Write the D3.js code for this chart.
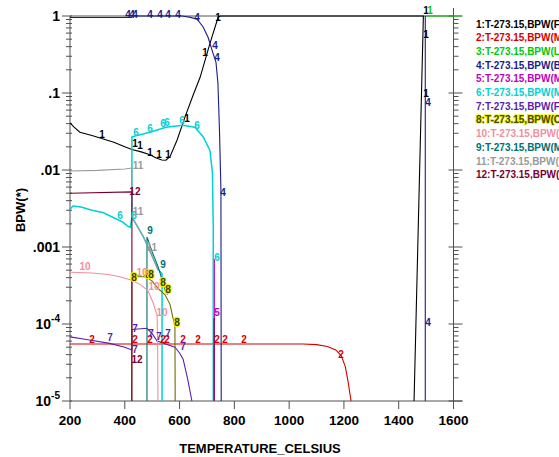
<!DOCTYPE html>
<html><head><meta charset="utf-8">
<script src="https://cdn.jsdelivr.net/npm/d3@7"></script>
<style>
body{margin:0;background:#fff;overflow:hidden}
svg{display:block}
text{font-family:Arial,"Liberation Sans",sans-serif}
</style>
</head><body>
<svg id="c" width="559" height="457"></svg>
<script>
// ---------- data ----------
const xTicks = [200,400,600,800,1000,1200,1400,1600];
const yTicks = [1,0.1,0.01,0.001,1e-4,1e-5];
const yTickLabels = [["1",""],[".1",""],[".01",""],[".001",""],["10","-4"],["10","-5"]];
const xTitle = "TEMPERATURE_CELSIUS";
const yTitle = "BPW(*)";

const legendOrder = [1,2,3,4,5,6,7,8,10,9,11,12];
const legendNames = {
  1:"1:T-273.15,BPW(FCC_A1)", 2:"2:T-273.15,BPW(M23C6)", 3:"3:T-273.15,BPW(LIQUID)",
  4:"4:T-273.15,BPW(BCC_A2)", 5:"5:T-273.15,BPW(M7C3)", 6:"6:T-273.15,BPW(M6C)",
  7:"7:T-273.15,BPW(FCC_A1#2)", 8:"8:T-273.15,BPW(CEMENTITE)", 10:"10:T-273.15,BPW(SIGMA)",
  9:"9:T-273.15,BPW(MC_ETA)", 11:"11:T-273.15,BPW(LAVES)", 12:"12:T-273.15,BPW(MU)"
};
const colors = {1:"#000000",2:"#d40000",3:"#00c800",4:"#1c1c8c",5:"#c000c0",6:"#00d2d2",
  7:"#5a1fb0",8:"#6e6e00",9:"#007070",10:"#f090a0",11:"#9a9a9a",12:"#7a0030"};

// series: list of segments, each [T, BPW]
const s1 = [[[200,0.041],[215,0.036],[236,0.031],[280,0.028],[310,0.026],[360,0.023],[400,0.020],[426,0.0185],[460,0.0172],[492,0.0158],[515,0.0143],[535,0.0135],[550,0.0134],[565,0.0149],[591,0.0245],[620,0.049],[650,0.095],[675,0.16],[711,0.44],[741,0.97],[750,1],[1490,1],[1456,1e-5]]];
const s2 = [[[200,5.5e-5],[1050,5.5e-5],[1100,5.4e-5],[1140,5.1e-5],[1170,4.6e-5],[1190,3.9e-5],[1205,2.8e-5],[1215,1.8e-5],[1226,1e-5]]];
const s3 = [[[1497,1],[1630,1]]];
const s4 = [[[200,0.955],[425,0.955],[426,1],[609,1],[640,0.96],[664,0.91],[686,0.72],[704,0.53],[722,0.33],[733,0.25],[740,0.135],[746,0.03],[751,0.0055],[752,1e-5]],
            [[1497,1e-5],[1497,1]]];
const s5 = [[[727,7e-4],[727,1e-5]]];
const s6 = [[[200,0.0031],[211,0.0034],[240,0.0033],[280,0.0030],[320,0.0028],[360,0.0024],[393,0.0021],[408,0.0019],[420,0.0018],[426,0.0024],[426,0.027],[492,0.031],[550,0.036],[612,0.038],[656,0.036],[686,0.027],[711,0.018],[720,0.0092],[723,0.0017],[723,1e-5]],
            [[426,0.0024],[437,0.0021],[466,0.0014],[485,0.001],[503,7.2e-4],[521,5.2e-4],[536,4.5e-4],[536,1e-5]]];
const s7 = [[[200,6.8e-5],[260,6.3e-5],[345,5.6e-5],[400,5.0e-5],[426,4.6e-5],[426,8.5e-5],[481,8.8e-5],[500,7.5e-5],[518,6.0e-5],[583,5.0e-5],[600,4.2e-5],[613,3.5e-5],[630,1.9e-5],[645,1e-5]]];
const s8 = [[[425,1e-5],[426,4.1e-4],[470,4.1e-4],[481,4.0e-4],[500,3.6e-4],[521,2.9e-4],[547,2.4e-4],[565,1.8e-4],[576,1.2e-4],[583,9.7e-5],[584,1e-5]]];
const s9 = [[[481,1e-5],[481,1.35e-3],[490,1.1e-3],[500,8.6e-4],[512,6.8e-4],[521,5.6e-4],[535,3.9e-4],[548,2.7e-4],[556,2.4e-4]]];
const s10 = [[[200,4.7e-4],[280,4.6e-4],[340,4.4e-4],[382,4.1e-4],[426,3.7e-4],[460,3.2e-4],[485,2.7e-4],[503,1.9e-4],[515,1.4e-4],[518,1.3e-4],[520,5e-5],[521,1e-5]]];
const s11 = [[[200,0.0097],[300,0.0099],[400,0.0103],[426,0.0106],[426,0.0025],[437,0.0021],[466,0.0014],[485,0.001],[503,7.2e-4],[521,5.0e-4]]];
const s12 = [[[200,0.005],[426,0.0052],[426,1e-5]],[[726,1.2e-4],[726,1e-5]]];
const seriesData = {1:s1,2:s2,3:s3,4:s4,5:s5,6:s6,7:s7,8:s8,9:s9,10:s10,11:s11,12:s12};

// curve labels [T, BPW]
const lab1 = [[317,0.0285],[437,0.0224],[456,0.0205],[492,0.0171],[525,0.0161],[558,0.0157],[627,0.0473],[693,0.331],[740,0.97],[1500,1.196],[1500,0.567],[1500,0.1]];
const lab2 = [[280,6.38e-5],[437,6.38e-5],[492,6.38e-5],[540,6.38e-5],[554,6.38e-5],[613,6.38e-5],[667,6.38e-5],[737,6.38e-5],[766,6.38e-5],[835,6.38e-5],[1189,3.96e-5]];
const lab3 = [[1514,1.196]];
const lab4 = [[412,1.06],[426,1.06],[437,1.06],[492,1.06],[529,1.06],[558,1.06],[594,1.06],[664,0.97],[729,0.42],[737,0.293],[759,0.00503],[1507,0.0742],[1507,1.06e-4]];
const lab5 = [[737,1.43e-4]];
const lab6 = [[441,0.0303],[492,0.0351],[540,0.0396],[554,0.0408],[609,0.0446],[664,0.0384],[383,0.0026],[434,0.0026],[737,7.2e-4]];
const lab7 = [[346,6.58e-5],[437,8.87e-5],[437,4.73e-5],[496,7.64e-5],[525,6.98e-5],[558,7.64e-5],[613,5.03e-5]];
const lab8 = [[434,3.96e-4],[485,4.46e-4],[496,4.46e-4],[540,3.41e-4],[558,2.77e-4],[591,1.06e-4]];
const lab9 = [[492,0.00166],[540,5.84e-4]];
const lab10 = [[255,5.66e-4],[463,4.6e-4],[507,3.03e-4],[536,1.43e-4]];
const lab11 = [[448,0.0116],[448,0.0029],[499,0.001]];
const lab12 = [[437,0.0052],[445,3.5e-5]];
const labelData = {1:lab1,2:lab2,3:lab3,4:lab4,5:lab5,6:lab6,7:lab7,8:lab8,9:lab9,10:lab10,11:lab11,12:lab12};
const labelText = {1:"1",2:"2",3:"1",4:"4",5:"5",6:"6",7:"7",8:"8",9:"9",10:"10",11:"11",12:"12"};

// ---------- drawing ----------
const svg = d3.select("#c");
const x = d3.scaleLinear().domain([200,1600]).range([70,453.5]);
const y = d3.scaleLog().domain([1e-5,1]).range([401,16]);
const axisColor = "#505050";

// minor log ticks
const minor = [];
for (let e=-5; e<0; e++) for (let m=2; m<=9; m++) minor.push(m*Math.pow(10,e));

const g = svg.append("g");
// left axis
g.append("line").attr("x1",x(200)).attr("x2",x(200)).attr("y1",y(1)).attr("y2",y(1e-5)).attr("stroke",axisColor);
g.selectAll(".lmaj").data(yTicks).join("line").attr("x1",x(200)-8).attr("x2",x(200)+2)
  .attr("y1",d=>y(d)).attr("y2",d=>y(d)).attr("stroke",axisColor);
g.selectAll(".lmin").data(minor).join("line").attr("x1",x(200)-4).attr("x2",x(200)+2)
  .attr("y1",d=>y(d)).attr("y2",d=>y(d)).attr("stroke",axisColor);
// right axis
g.append("line").attr("x1",x(1600)).attr("x2",x(1600)).attr("y1",8).attr("y2",y(1e-5)).attr("stroke",axisColor);
g.selectAll(".rmaj").data(yTicks).join("line").attr("x1",x(1600)-5).attr("x2",x(1600)+9)
  .attr("y1",d=>y(d)).attr("y2",d=>y(d)).attr("stroke",axisColor);
g.selectAll(".rmin").data(minor).join("line").attr("x1",x(1600)).attr("x2",x(1600)+5)
  .attr("y1",d=>y(d)).attr("y2",d=>y(d)).attr("stroke",axisColor);
// top line
g.append("line").attr("x1",x(200)).attr("x2",x(1600)).attr("y1",y(1)).attr("y2",y(1)).attr("stroke",axisColor);
// bottom axis
g.append("line").attr("x1",x(200)).attr("x2",x(1600)+9).attr("y1",y(1e-5)).attr("y2",y(1e-5)).attr("stroke",axisColor);
g.selectAll(".xt").data(xTicks).join("line").attr("x1",d=>x(d)).attr("x2",d=>x(d))
  .attr("y1",y(1e-5)).attr("y2",y(1e-5)+8).attr("stroke",axisColor);

// tick labels
g.selectAll(".xl").data(xTicks).join("text").attr("x",d=>x(d)).attr("y",y(1e-5)+24)
  .attr("text-anchor","middle").attr("font-size","13.5px").attr("font-weight","bold").text(d=>d);
const yl = g.selectAll(".yl").data(yTicks).join("text")
  .attr("x",60).attr("y",d=>y(d)+5).attr("text-anchor","end")
  .attr("font-size","14px").attr("font-weight","bold");
yl.append("tspan").text((d,i)=>yTickLabels[i][0]);
yl.append("tspan").attr("font-size","10px").attr("dy",-7).text((d,i)=>yTickLabels[i][1]);

// titles
svg.append("text").attr("x",260).attr("y",453).attr("text-anchor","middle")
  .attr("font-size","13px").attr("font-weight","bold").text(xTitle);
svg.append("text").attr("transform","translate(25,210) rotate(-90)").attr("text-anchor","middle")
  .attr("font-size","13px").attr("font-weight","bold").text(yTitle);

// curves
const line = d3.line().x(d=>x(d[0])).y(d=>y(d[1]));
const order = [1,2,3,4,5,6,7,8,9,10,11,12];
order.forEach(k=>{
  svg.append("g").selectAll("path").data(seriesData[k]).join("path")
    .attr("d",line).attr("fill","none").attr("stroke",colors[k])
    .attr("stroke-width", k===6 ? 1.5 : 1.1);
});

// curve labels
order.forEach(k=>{
  const t = svg.append("g").selectAll("text").data(labelData[k]).join("text")
    .attr("x",d=>x(d[0])).attr("y",d=>y(d[1])+3.5).attr("text-anchor","middle")
    .attr("font-size","10px").attr("font-weight","bold")
    .attr("fill", k===8 ? "#3a3a00" : colors[k]).text(labelText[k]);
  if (k===8) t.attr("stroke","#f0f000").attr("stroke-width",2.5).attr("paint-order","stroke");
});

// legend
const leg = svg.append("g");
leg.selectAll("text").data(legendOrder).join("text")
  .attr("x",476).attr("y",(d,i)=>24+13.7*i+3.5)
  .attr("font-size","10px").attr("font-weight","bold")
  .attr("fill",d=> d===8 ? "#4a4a00" : colors[d])
  .attr("stroke",d=> d===8 ? "#f4f000" : "none").attr("stroke-width",1.5).attr("paint-order","stroke")
  .text(d=>legendNames[d]);
</script>
</body></html>
